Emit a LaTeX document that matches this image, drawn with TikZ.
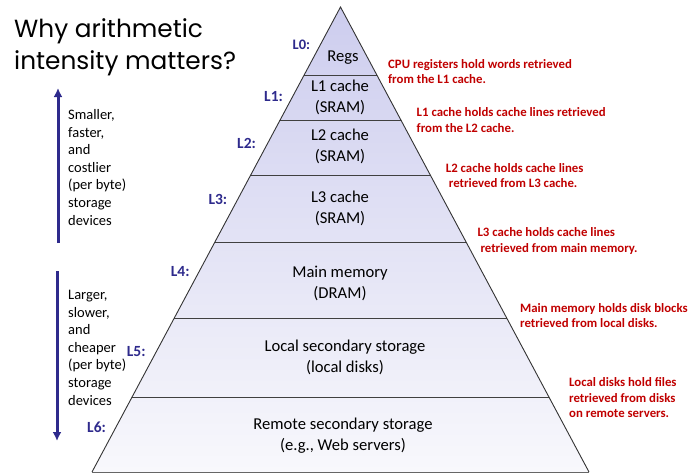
\documentclass[tikz,border=0pt]{standalone}
\usepackage{fontspec}
\setmainfont{Carlito}
\newfontfamily\titlefont{Poppins}
\usetikzlibrary{arrows.meta}
\definecolor{navy}{HTML}{2E2A8C}
\definecolor{redtxt}{HTML}{C00000}
\definecolor{pyrtop}{HTML}{CDCDEE}
\definecolor{pyrbot}{HTML}{F8F8FC}
\tikzset{
  lvl/.style={font=\fontsize{16.6}{21}\selectfont, align=center, inner sep=0pt},
  lab/.style={font=\fontsize{15.5}{17}\selectfont\bfseries, text=navy, anchor=base west, inner sep=0pt},
  note/.style={font=\fontsize{12.8}{15.3}\selectfont\bfseries, text=redtxt, anchor=base west, align=left, inner sep=0pt},
  side/.style={font=\fontsize{14.5}{17.6}\selectfont, anchor=base west, align=left, inner sep=0pt},
  divider/.style={draw=black!75, line width=0.9pt},
  bigarrow/.style={draw=navy, line width=3pt, -{Latex[length=9pt,width=9pt]}}
}
\begin{document}
\begin{tikzpicture}[x=1pt,y=-1pt]
\useasboundingbox (0,0) rectangle (688,474);
% pyramid
\coordinate (apex) at (340.5,7);
\coordinate (bl) at (92,472);
\coordinate (br) at (589,472);
\shade[top color=pyrtop, bottom color=pyrbot] (apex) -- (bl) -- (br) -- cycle;
\begin{scope}
  \clip (apex) -- (bl) -- (br) -- cycle;
  \foreach \yy in {75,120,175,242,318,397} {
    \draw[divider] (0,\yy) -- (688,\yy);
  }
\end{scope}
\draw[black!80, line width=0.9pt] (bl) -- (apex) -- (br);
\draw[black!60, line width=0.9pt] (bl) -- (br);
% level texts
\node[lvl] (regs) at (343,58) {Regs};
\node[lvl] (l1) at (340,97.5) {L1 cache\\(SRAM)};
\node[lvl] (l2) at (340,146.5) {L2 cache\\(SRAM)};
\node[lvl] (l3) at (340,208.5) {L3 cache\\(SRAM)};
\node[lvl] (l4) at (340,283.5) {Main memory\\(DRAM)};
\node[lvl] (l5) at (345,357.5) {Local secondary storage\\(local disks)};
\node[lvl] (l6) at (343,435.5) {Remote secondary storage\\(e.g., Web servers)};
% labels
\node[lab, font=\fontsize{14.5}{17}\selectfont\bfseries] (t0) at (292.5,49.5) {L0:};
\node[lab] (t1) at (264,101) {L1:};
\node[lab] (t2) at (237,148.5) {L2:};
\node[lab] (t3) at (208.3,204) {L3:};
\node[lab] (t4) at (170.7,276) {L4:};
\node[lab] (t5) at (126.7,356.7) {L5:};
\node[lab] (t6) at (87,432.3) {L6:};
% notes (anchor = baseline of the last line)
\node[note] (n0) at (388,83.5) {CPU registers hold words retrieved\\from the L1 cache.};
\node[note] (n1) at (416.5,132) {L1 cache holds cache lines retrieved\\from the L2 cache.};
\node[note] (n2) at (445.7,187.3) {L2 cache holds cache lines\\\hspace*{3pt}retrieved from L3 cache.};
\node[note] (n3) at (477.3,252) {L3 cache holds cache lines\\\hspace*{3pt}retrieved from main memory.};
\node[note] (n4) at (520,327.3) {Main memory holds disk blocks\\retrieved from local disks.};
\node[note] (n5) at (569,417.3) {Local disks hold files\\retrieved from disks\\on remote servers.};
% title
\node[font=\titlefont\fontsize{24.8}{32}\selectfont, anchor=base west, align=left, inner sep=0pt] (title) at (14,69) {Why arithmetic\\intensity matters?};
% side arrows and text
\coordinate (upfrom) at (58,243);
\coordinate (upto) at (58,88);
\coordinate (dnfrom) at (57,271);
\coordinate (dnto) at (57,441);
\draw[bigarrow] (upfrom) -- (upto);
\draw[bigarrow] (dnfrom) -- (dnto);
\node[side] (s1) at (68,225) {Smaller,\\faster,\\and\\costlier\\(per byte)\\storage\\devices};
\node[side] (s2) at (68,405) {Larger,\\slower,\\and\\cheaper\\(per byte)\\storage\\devices};
\end{tikzpicture}
\end{document}
